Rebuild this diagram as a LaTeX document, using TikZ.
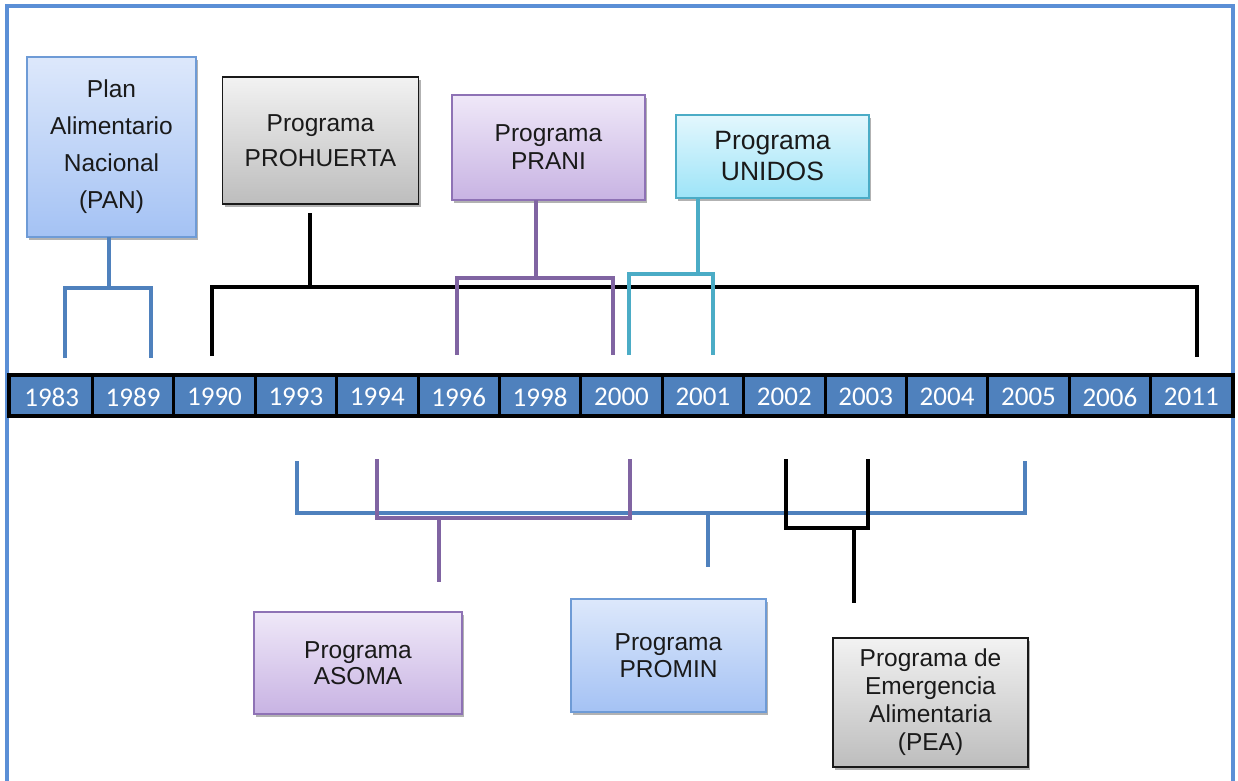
\documentclass[tikz,border=0pt]{standalone}
\usepackage{fontspec}
\setmainfont{Liberation Sans}
\newfontfamily\yearfont{Carlito}
\usetikzlibrary{shadows}
\definecolor{frameblue}{HTML}{5B8FD6}
\definecolor{barblue}{HTML}{4F81BD}
\definecolor{lblue}{HTML}{4F81BD}
\definecolor{lpurple}{HTML}{8064A2}
\definecolor{lteal}{HTML}{4BACC6}
\definecolor{bluetop}{HTML}{DDE8FB}
\definecolor{bluebot}{HTML}{A4C2F4}
\definecolor{bluebd}{HTML}{6E9BD6}
\definecolor{graytop}{HTML}{F2F2F2}
\definecolor{graybot}{HTML}{BDBDBD}
\definecolor{purtop}{HTML}{EFE8F8}
\definecolor{purbot}{HTML}{C8B3E3}
\definecolor{purbd}{HTML}{8E72B5}
\definecolor{cyantop}{HTML}{E3F7FD}
\definecolor{cyanbot}{HTML}{9DE4F8}
\definecolor{cyanbd}{HTML}{4BACC6}
\definecolor{txt}{HTML}{1A1A1A}
\tikzset{
  box/.style={line width=1.5pt, align=center, inner sep=0pt, outer sep=0pt,
    text=txt, font=\fontsize{24.5}{28}\selectfont,
    drop shadow={shadow xshift=2pt, shadow yshift=-3pt, opacity=0.3, fill=black}},
  bluebox/.style={box, draw=bluebd, top color=bluetop, bottom color=bluebot},
  graybox/.style={box, draw=black!90, top color=graytop, bottom color=graybot},
  purbox/.style={box, draw=purbd, top color=purtop, bottom color=purbot},
  cyanbox/.style={box, draw=cyanbd, top color=cyantop, bottom color=cyanbot},
  conn/.style={line width=4.5pt, line join=miter},
  cb/.style={conn, draw=lblue},
  cp/.style={conn, draw=lpurple},
  ct/.style={conn, draw=lteal},
  ck/.style={conn, draw=black, line width=4pt},
  year/.style={text=white, font=\yearfont\fontsize{27}{30}\selectfont, inner sep=0pt},
}
\begin{document}
\begin{tikzpicture}[x=1pt,y=-1pt]
\useasboundingbox (0,0) rectangle (1238,780);
% frame
\draw[frameblue, line width=4pt] (7,782) -- (7,6) -- (1233,6) -- (1233,782);

% upper boxes
\node[bluebox, minimum width=169pt, minimum height=180pt, font=\fontsize{24.5}{37}\selectfont] (pan) at (111.5,147) {Plan\\Alimentario\\Nacional\\(PAN)};
\node[graybox, minimum width=196pt, minimum height=127pt, font=\fontsize{24.5}{35}\selectfont] (prohuerta) at (320.5,140.5) {Programa\\PROHUERTA};
\node[purbox, minimum width=193pt, minimum height=105pt] (prani) at (548.5,147.5) {Programa\\PRANI};
\node[cyanbox, minimum width=193pt, minimum height=83pt, font=\fontsize{26.5}{31}\selectfont] (unidos) at (772.5,156.5) {Programa\\UNIDOS};

% lower boxes
\node[purbox, minimum width=208pt, minimum height=102pt, font=\fontsize{24.5}{26}\selectfont] (asoma) at (358,663) {Programa\\ASOMA};
\node[bluebox, minimum width=195pt, minimum height=113pt, font=\fontsize{24.5}{27}\selectfont] (promin) at (668.5,655.5) {Programa\\PROMIN};
\node[graybox, minimum width=195pt, minimum height=129pt] (pea) at (930.5,702.5) {Programa de\\Emergencia\\Alimentaria\\(PEA)};

% coordinates for upper brackets
\coordinate (panJ) at (109,288);
\coordinate (panL) at (65,358);
\coordinate (panR) at (151,358);
\coordinate (proTop) at (310,213);
\coordinate (proJ) at (310,287);
\coordinate (proL) at (212,356);
\coordinate (proR) at (1197,357);
\coordinate (praJ) at (536,278);
\coordinate (praL) at (457,355);
\coordinate (praR) at (613,355);
\coordinate (uniJ) at (698,274);
\coordinate (uniL) at (629,355);
\coordinate (uniR) at (713,355);

% black (PROHUERTA)
\draw[ck] (proTop) -- (proJ);
\draw[ck] (proL) -- (proL |- proJ) -- (proR |- proJ) -- (proR);
% PAN
\draw[cb] (pan.south -| panJ) -- (panJ);
\draw[cb] (panL) -- (panL |- panJ) -- (panR |- panJ) -- (panR);
% PRANI
\draw[cp] (prani.south -| praJ) -- (praJ);
\draw[cp] (praL) -- (praL |- praJ) -- (praR |- praJ) -- (praR);
% UNIDOS
\draw[ct] (unidos.south -| uniJ) -- (uniJ);
\draw[ct] (uniL) -- (uniL |- uniJ) -- (uniR |- uniJ) -- (uniR);

% coordinates for lower brackets
\coordinate (pmL) at (297,461);
\coordinate (pmR) at (1025,461);
\coordinate (pmJ) at (708,513);
\coordinate (pmEnd) at (708,567);
\coordinate (asL) at (377,459);
\coordinate (asR) at (630,459);
\coordinate (asJ) at (439,518);
\coordinate (asEnd) at (439,582);
\coordinate (peL) at (786,459);
\coordinate (peR) at (868,459);
\coordinate (peJ) at (854,528);
\coordinate (peEnd) at (854,603);

% PROMIN (blue)
\draw[cb] (pmL) -- (pmL |- pmJ) -- (pmR |- pmJ) -- (pmR);
\draw[cb] (pmJ) -- (pmEnd);
% ASOMA (purple)
\draw[cp] (asL) -- (asL |- asJ) -- (asR |- asJ) -- (asR);
\draw[cp] (asJ) -- (asEnd);
% PEA (black)
\draw[ck] (peL) -- (peL |- peJ) -- (peR |- peJ) -- (peR);
\draw[ck] (peJ) -- (peEnd);

% timeline bar
\draw[line width=4.5pt, fill=barblue] (9,375) rectangle (1233,416);
\foreach \k in {1,...,14}
  \draw[line width=3pt] ({11+81.4*\k},375) -- ({11+81.4*\k},416);
\foreach \yr [count=\i from 0] in {1983,1989,1990,1993,1994,1996,1998,2000,2001,2002,2003,2004,2005,2006,2011}
  \node[year] (yr\yr) at ({11+81.4*(\i+0.5)},397) {\yr};
\end{tikzpicture}
\end{document}
